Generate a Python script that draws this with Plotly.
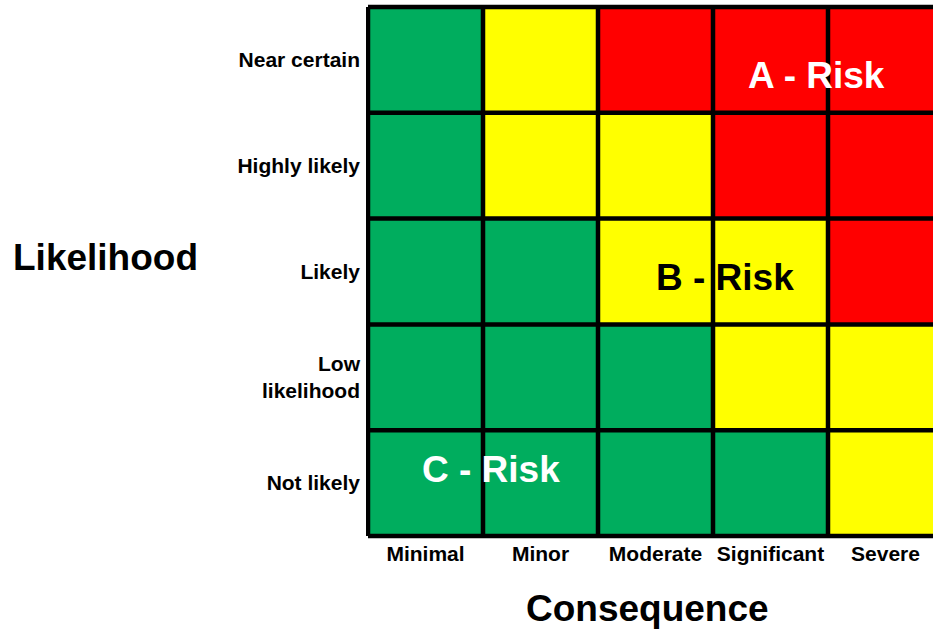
import plotly.graph_objects as go

# ---- data ----
consequence = ["Minimal", "Minor", "Moderate", "Significant", "Severe"]
likelihood = ["Near certain", "Highly likely", "Likely", "Low<br>likelihood", "Not likely"]  # top -> bottom
# risk level per cell: 0 = C (green), 1 = B (yellow), 2 = A (red)
risk_level = [
    [0, 1, 2, 2, 2],
    [0, 1, 1, 2, 2],
    [0, 0, 1, 1, 2],
    [0, 0, 0, 1, 1],
    [0, 0, 0, 0, 1],
]
risk_labels = ["A - Risk", "B - Risk", "C - Risk"]

GREEN = "#00AD5E"
YELLOW = "#FFFF00"
RED = "#FF0000"
FONT = "Liberation Sans, Arial, sans-serif"

fig = go.Figure(
    go.Heatmap(
        z=risk_level,
        x=list(range(len(consequence))),
        y=list(range(len(likelihood))),
        zmin=0, zmax=2,
        colorscale=[[0, GREEN], [0.5, YELLOW], [1, RED]],
        showscale=False,
        hoverinfo="skip",
    )
)

# grid lines at cell borders
n_x, n_y = len(consequence), len(likelihood)
shapes = []
for i in range(n_x + 1):
    shapes.append(dict(type="line", xref="x", yref="y", x0=i - 0.5, x1=i - 0.5,
                       y0=-0.5, y1=n_y - 0.5, line=dict(color="black", width=4.5)))
for j in range(n_y + 1):
    shapes.append(dict(type="line", xref="x", yref="y", x0=-0.5, x1=n_x - 0.5,
                       y0=j - 0.5, y1=j - 0.5, line=dict(color="black", width=4.5)))

big = dict(family=FONT, size=37, weight="bold")
annotations = [
    dict(x=3.4, y=0.143, xref="x", yref="y", text=risk_labels[0], showarrow=False,
         font=dict(big, color="white")),
    dict(x=2.604, y=2.052, xref="x", yref="y", text=risk_labels[1], showarrow=False,
         font=dict(big, color="black")),
    dict(x=0.57, y=3.876, xref="x", yref="y", text=risk_labels[2], showarrow=False,
         font=dict(big, color="white")),
    dict(x=-0.46, y=0.527, xref="paper", yref="paper", text="Likelihood", showarrow=False,
         xanchor="center", yanchor="middle", font=dict(big, color="black")),
    dict(x=0.4956, y=-0.129, xref="paper", yref="paper", text="Consequence", showarrow=False,
         xanchor="center", yanchor="middle", font=dict(big, color="black")),
]

fig.update_layout(
    width=933, height=631,
    margin=dict(l=366, r=0, t=4, b=92),
    paper_bgcolor="white", plot_bgcolor="white",
    shapes=shapes,
    annotations=annotations,
    xaxis=dict(
        range=[-0.5174, -0.5174 + 567 / 115],
        tickvals=list(range(n_x)), ticktext=consequence,
        showgrid=False, zeroline=False, ticks="", ticklabelstandoff=0,
        tickfont=dict(family=FONT, size=21, color="black", weight="bold"),
    ),
    yaxis=dict(
        range=[n_y - 0.5 + 0.0284, -0.5284],
        tickvals=list(range(n_y)), ticktext=likelihood,
        showgrid=False, zeroline=False, ticks="", ticklabelstandoff=5,
        tickfont=dict(family=FONT, size=21, color="black", weight="bold"),
    ),
)

fig.write_html("out.html", config={"displayModeBar": False},
               post_script="document.body.style.margin='0px';document.body.style.overflow='hidden';")
